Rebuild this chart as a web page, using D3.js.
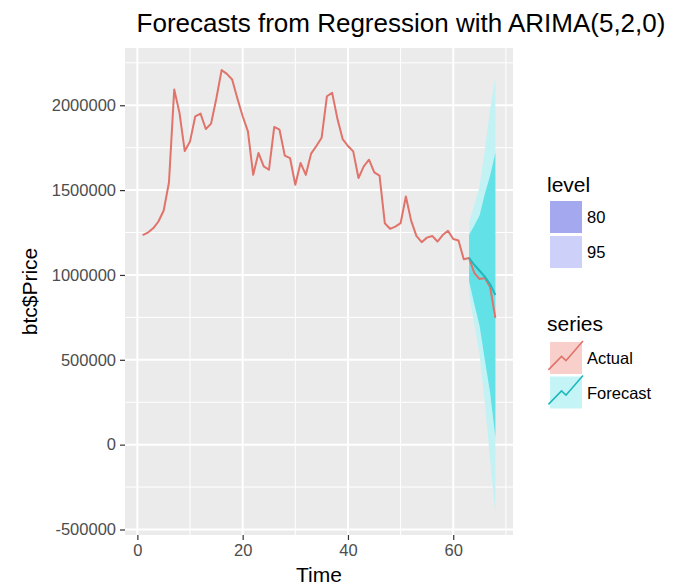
<!DOCTYPE html>
<html>
<head>
<meta charset="utf-8">
<script src="https://cdn.jsdelivr.net/npm/d3@7/dist/d3.min.js"></script>
<style>
  html, body { margin: 0; padding: 0; background: #ffffff; }
  svg { display: block; font-family: "Liberation Sans", Arial, sans-serif; }
</style>
</head>
<body>
<svg id="chart" width="689" height="588"></svg>
<script>
// ---------------- data ----------------
const actualTime = d3.range(1, 69);
const actual = [
  1235000, 1250000, 1275000, 1315000, 1380000, 1545000, 2093000, 1955000, 1730000, 1787000,
  1935000, 1951000, 1860000, 1892000, 2040000, 2207000, 2185000, 2152000, 2040000, 1935000,
  1846000, 1590000, 1719000, 1640000, 1620000, 1872000, 1856000, 1703000, 1689000, 1531000,
  1660000, 1590000, 1715000, 1760000, 1809000, 2053000, 2073000, 1920000, 1800000, 1760000,
  1728000, 1571000, 1640000, 1679000, 1605000, 1585000, 1305000, 1272000, 1285000, 1305000,
  1462000, 1320000, 1230000, 1193000, 1220000, 1230000, 1197000, 1235000, 1260000, 1212000,
  1203000, 1092000, 1100000, 1012000, 976000, 982000, 929000, 747000
];
const forecastTime = [63, 64, 65, 66, 67, 68];
const forecast = [1100000, 1060000, 1025000, 990000, 945000, 882000];
const lo80 = [964000, 829000, 700000, 501000, 306000, 44000];
const hi80 = [1236000, 1291000, 1350000, 1479000, 1584000, 1720000];
const lo95 = [892000, 707000, 528000, 242000, -87000, -402000];
const hi95 = [1308000, 1413000, 1522000, 1738000, 1977000, 2166000];

const xTicks = [0, 20, 40, 60];
const xMinor = [10, 30, 50, 70];
const yTicks = [-500000, 0, 500000, 1000000, 1500000, 2000000];
const yMinor = [-250000, 250000, 750000, 1250000, 1750000, 2250000];
const levels = ["80", "95"];
const seriesNames = ["Actual", "Forecast"];

const titleText = "Forecasts from Regression with ARIMA(5,2,0)";
const xTitle = "Time";
const yTitle = "btc$Price";

// ---------------- layout / style ----------------
const panel = { left: 125, right: 513, top: 48, bottom: 535 };
const col = {
  panel: "#EBEBEB", grid: "#FFFFFF", actual: "#E0736A", forecast: "#1FB8BD",
  band95: "#C3F2F4", band80: "#62E2E7",
  key80: "#A4A8EE", key95: "#CDD0F8", keyActual: "#F8CFCB", keyForecast: "#C4F4F6",
  tickText: "#4D4D4D", tick: "#333333"
};

const svg = d3.select("#chart");

function padExtent(ext, f) {
  const r = ext[1] - ext[0];
  return [ext[0] - r * f, ext[1] + r * f];
}

const xAll = actualTime.concat(forecastTime);
const yAll = actual.concat(forecast, lo95, hi95, lo80, hi80);
const x = d3.scaleLinear().domain(padExtent(d3.extent(xAll), 0.05)).range([panel.left, panel.right]);
const y = d3.scaleLinear().domain(padExtent(d3.extent(yAll), 0.05)).range([panel.bottom, panel.top]);

// panel background
svg.append("rect")
  .attr("x", panel.left).attr("y", panel.top)
  .attr("width", panel.right - panel.left).attr("height", panel.bottom - panel.top)
  .attr("fill", col.panel);

// minor grid
const g = svg.append("g");
g.selectAll(".ymin").data(yMinor).enter().append("line")
  .attr("x1", panel.left).attr("x2", panel.right)
  .attr("y1", d => y(d)).attr("y2", d => y(d))
  .attr("stroke", col.grid).attr("stroke-width", 1);
g.selectAll(".xmin").data(xMinor).enter().append("line")
  .attr("y1", panel.top).attr("y2", panel.bottom)
  .attr("x1", d => x(d)).attr("x2", d => x(d))
  .attr("stroke", col.grid).attr("stroke-width", 1);
// major grid
g.selectAll(".ymaj").data(yTicks).enter().append("line")
  .attr("x1", panel.left).attr("x2", panel.right)
  .attr("y1", d => y(d)).attr("y2", d => y(d))
  .attr("stroke", col.grid).attr("stroke-width", 2);
g.selectAll(".xmaj").data(xTicks).enter().append("line")
  .attr("y1", panel.top).attr("y2", panel.bottom)
  .attr("x1", d => x(d)).attr("x2", d => x(d))
  .attr("stroke", col.grid).attr("stroke-width", 2);

// bands
const bandData = forecastTime.map((t, i) => ({ t, lo80: lo80[i], hi80: hi80[i], lo95: lo95[i], hi95: hi95[i] }));
const area95 = d3.area().x(d => x(d.t)).y0(d => y(d.lo95)).y1(d => y(d.hi95));
const area80 = d3.area().x(d => x(d.t)).y0(d => y(d.lo80)).y1(d => y(d.hi80));
svg.append("path").datum(bandData).attr("d", area95).attr("fill", col.band95);
svg.append("path").datum(bandData).attr("d", area80).attr("fill", col.band80);

// lines
const line = d3.line().x(d => x(d[0])).y(d => y(d[1]));
svg.append("path").datum(actualTime.map((t, i) => [t, actual[i]]))
  .attr("d", line).attr("fill", "none").attr("stroke", col.actual)
  .attr("stroke-width", 2).attr("stroke-linejoin", "round");
svg.append("path").datum(forecastTime.map((t, i) => [t, forecast[i]]))
  .attr("d", line).attr("fill", "none").attr("stroke", col.forecast)
  .attr("stroke-width", 2).attr("stroke-linejoin", "round");

// axes
const tickFont = 16.5;
const yAxis = d3.axisLeft(y).tickValues(yTicks).tickSize(5).tickPadding(4).tickFormat(d3.format("d"));
const yg = svg.append("g").attr("transform", `translate(${panel.left},0)`).call(yAxis);
const xAxis = d3.axisBottom(x).tickValues(xTicks).tickSize(5).tickPadding(4).tickFormat(d3.format("d"));
const xg = svg.append("g").attr("transform", `translate(0,${panel.bottom})`).call(xAxis);
[yg, xg].forEach(a => {
  a.select(".domain").remove();
  a.selectAll(".tick line").attr("stroke", col.tick).attr("stroke-width", 1.2);
  a.selectAll(".tick text").attr("fill", col.tickText).style("font-size", tickFont + "px")
    .style("font-family", '"Liberation Sans", Arial, sans-serif');
});
yg.selectAll(".tick text").text(d => d3.format("d")(d).replace("−", "-"));

// titles
svg.append("text").attr("x", (panel.left + panel.right) / 2).attr("y", 582)
  .attr("text-anchor", "middle").style("font-size", "21px").attr("fill", "#000").text(xTitle);
svg.append("text").attr("transform", `translate(37,${(panel.top + panel.bottom) / 2}) rotate(-90)`)
  .attr("text-anchor", "middle").style("font-size", "21px").attr("fill", "#000").text(yTitle);
svg.append("text").attr("x", 401).attr("y", 32)
  .attr("text-anchor", "middle").style("font-size", "26px").attr("fill", "#000").text(titleText);

// legend: level
const lg = svg.append("g");
const keyX = 550, keyW = 32, keyH = 32;
lg.append("text").attr("x", 547).attr("y", 192).style("font-size", "21px").text("level");
const levelColors = [col.key80, col.key95];
levels.forEach((lv, i) => {
  const ky = 201 + i * 35;
  lg.append("rect").attr("x", keyX).attr("y", ky).attr("width", keyW).attr("height", keyH).attr("fill", levelColors[i]);
  lg.append("text").attr("x", 587).attr("y", ky + keyH / 2 + 6).style("font-size", "16.5px").attr("fill", "#000").text(lv);
});

// legend: series
lg.append("text").attr("x", 547).attr("y", 331).style("font-size", "21px").text("series");
const seriesFill = [col.keyActual, col.keyForecast];
const seriesLine = [col.actual, col.forecast];
const keyPath = [[-0.05, 0.87], [0.36, 0.45], [0.5, 0.58], [0.66, 0.4], [1.03, -0.03]];
seriesNames.forEach((s, i) => {
  const ky = 342 + i * 34.5;
  lg.append("rect").attr("x", keyX).attr("y", ky).attr("width", keyW).attr("height", keyH).attr("fill", seriesFill[i]);
  lg.append("path")
    .attr("d", d3.line()(keyPath.map(p => [keyX + p[0] * keyW, ky + p[1] * keyH])))
    .attr("fill", "none").attr("stroke", seriesLine[i]).attr("stroke-width", 1.6);
  lg.append("text").attr("x", 587).attr("y", ky + keyH / 2 + 6).style("font-size", "16.5px").attr("fill", "#000").text(s);
});
</script>
</body>
</html>
